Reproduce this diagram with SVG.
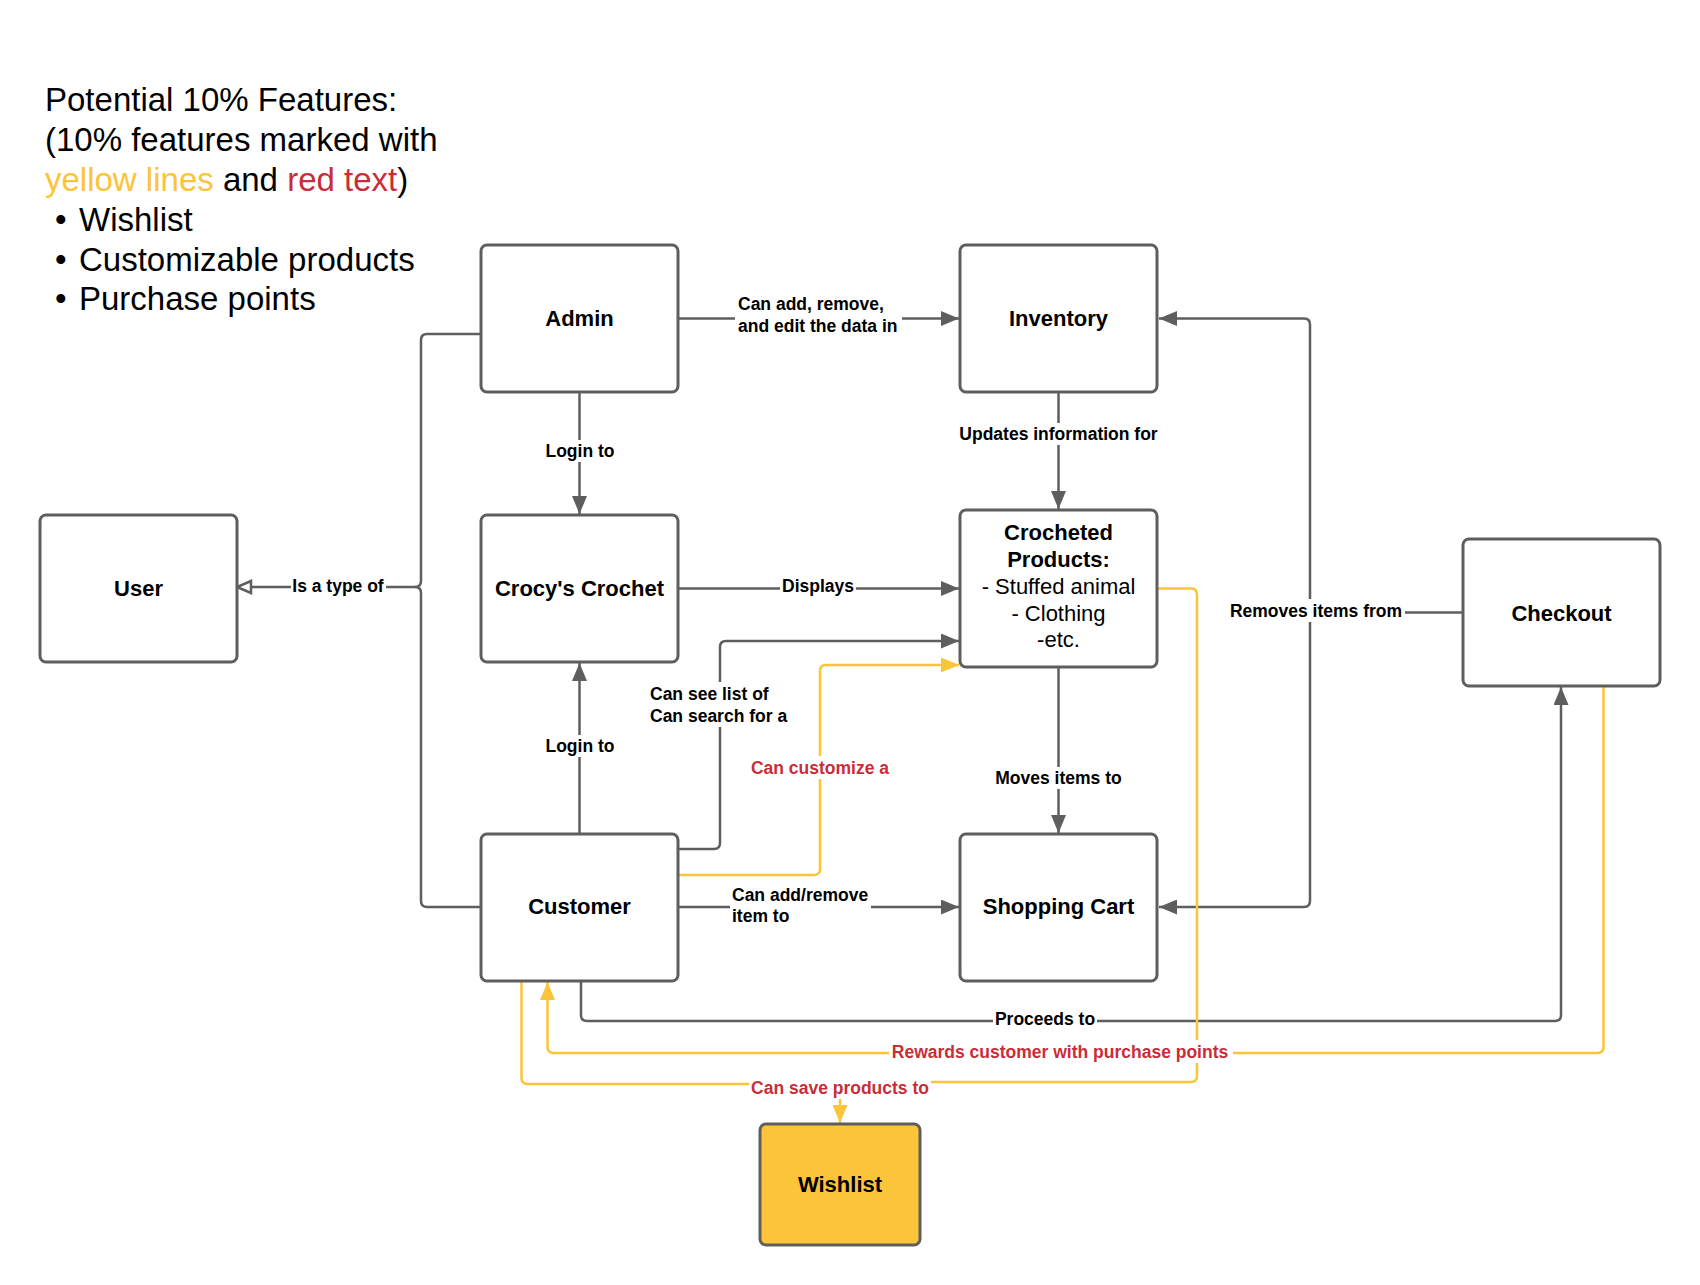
<svg xmlns="http://www.w3.org/2000/svg" width="1700" height="1285" viewBox="0 0 1700 1285">
<style>
.box{fill:#ffffff;stroke:#5e5e5e;stroke-width:3}
.wish{fill:#fcc438;stroke:#5e5e5e;stroke-width:3}
.nt{font-family:"Liberation Sans",Arial,sans-serif;font-size:22px;font-weight:bold;fill:#000;text-anchor:middle}
.nb{font-family:"Liberation Sans",Arial,sans-serif;font-size:22px;fill:#000;text-anchor:middle}
.ln{fill:none;stroke:#5e5e5e;stroke-width:2.5}
.ly{fill:none;stroke:#fcc438;stroke-width:2.5}
.lt{font-family:"Liberation Sans",Arial,sans-serif;font-size:17.5px;font-weight:bold;fill:#000}
.red{fill:#c92d39}
.mid{text-anchor:middle}
.bg{fill:#ffffff}
.title{font-family:"Liberation Sans",Arial,sans-serif;font-size:33px;fill:#000}
</style>
<defs>
<marker id="ag" markerUnits="userSpaceOnUse" markerWidth="19" markerHeight="15" refX="18" refY="7.5" orient="auto"><path d="M0,0 L18,7.5 L0,15 z" fill="#5e5e5e"/></marker>
<marker id="ay" markerUnits="userSpaceOnUse" markerWidth="19" markerHeight="15" refX="18" refY="7.5" orient="auto"><path d="M0,0 L18,7.5 L0,15 z" fill="#fcc438"/></marker>
<marker id="ah" markerUnits="userSpaceOnUse" markerWidth="18" markerHeight="16" refX="16" refY="8" orient="auto"><path d="M2,2 L16,8 L2,14 z" fill="#ffffff" stroke="#5e5e5e" stroke-width="2.5"/></marker>
</defs>
<rect width="1700" height="1285" fill="#ffffff"/>

<g id="title">
<text class="title" x="45" y="111">Potential 10% Features:</text>
<text class="title" x="45" y="151">(10% features marked with</text>
<text class="title" x="45" y="191"><tspan fill="#fcc438">yellow lines</tspan> and <tspan fill="#c92d39">red text</tspan>)</text>
<text class="title" x="55" y="231">•</text><text class="title" x="79" y="231">Wishlist</text>
<text class="title" x="55" y="271">•</text><text class="title" x="79" y="271">Customizable products</text>
<text class="title" x="55" y="310">•</text><text class="title" x="79" y="310">Purchase points</text>
</g>

<g id="connectors">
<path class="ln" d="M679,318.5 H959" marker-end="url(#ag)"/>
<path class="ln" d="M579.5,392 V514" marker-end="url(#ag)"/>
<path class="ln" d="M1058.5,392 V509" marker-end="url(#ag)"/>
<path class="ln" d="M679,588.5 H959" marker-end="url(#ag)"/>
<path class="ln" d="M579.5,834 V663" marker-end="url(#ag)"/>
<path class="ln" d="M679,849 H714 Q720,849 720,843 V647 Q720,641 726,641 H959" marker-end="url(#ag)"/>
<path class="ly" d="M679,875 H814 Q820,875 820,869 V671 Q820,665 826,665 H959" marker-end="url(#ay)"/>
<path class="ln" d="M679,907 H959" marker-end="url(#ag)"/>
<path class="ln" d="M1058.5,668 V833" marker-end="url(#ag)"/>
<path class="ln" d="M1463,612.5 H1310"/>
<path class="ln" d="M1310,612.5 V324.5 Q1310,318.5 1304,318.5 H1159" marker-end="url(#ag)"/>
<path class="ln" d="M1310,612.5 V901 Q1310,907 1304,907 H1159" marker-end="url(#ag)"/>
<path class="ln" d="M481,334 H427 Q421,334 421,340 V581 Q421,587 415,587"/>
<path class="ln" d="M481,907 H427 Q421,907 421,901 V593 Q421,587 415,587"/>
<path class="ln" d="M415,587 H237" marker-end="url(#ah)"/>
<path class="ln" d="M581,981 V1015 Q581,1021 587,1021 H1555 Q1561,1021 1561,1015 V687" marker-end="url(#ag)"/>
<path class="ly" d="M1603.5,686 V1047 Q1603.5,1053 1597.5,1053 H553.5 Q547.5,1053 547.5,1047 V982" marker-end="url(#ay)"/>
<path class="ly" d="M521.5,981 V1078 Q521.5,1084 527.5,1084 H840"/>
<path class="ly" d="M1157,588.5 H1191 Q1197,588.5 1197,594.5 V1076 Q1197,1082 1191,1082 H840"/>
<path class="ly" d="M840,1098 V1123" marker-end="url(#ay)"/>

<rect class="bg" x="735" y="292" width="167" height="46"/>
<text class="lt" x="738" y="310">Can add, remove,</text>
<text class="lt" x="738" y="332">and edit the data in</text>
<rect class="bg" x="543" y="440" width="74" height="22"/>
<text class="lt mid" x="580" y="457">Login to</text>
<rect class="bg" x="957" y="423" width="203" height="22"/>
<text class="lt mid" x="1058.5" y="440">Updates information for</text>
<rect class="bg" x="780" y="575" width="76" height="22"/>
<text class="lt mid" x="818" y="592">Displays</text>
<rect class="bg" x="291" y="576" width="95" height="22"/>
<text class="lt mid" x="338" y="592">Is a type of</text>
<rect class="bg" x="543" y="735" width="74" height="22"/>
<text class="lt mid" x="580" y="752">Login to</text>
<rect class="bg" x="647" y="682" width="143" height="45"/>
<text class="lt" x="650" y="700">Can see list of</text>
<text class="lt" x="650" y="721.5">Can search for a</text>
<rect class="bg" x="749" y="756" width="142" height="23"/>
<text class="lt mid red" x="820" y="773.5">Can customize a</text>
<rect class="bg" x="730" y="883" width="141" height="45"/>
<text class="lt" x="732" y="900.5">Can add/remove</text>
<text class="lt" x="732" y="922">item to</text>
<rect class="bg" x="993" y="767" width="131" height="22"/>
<text class="lt mid" x="1058.5" y="784">Moves items to</text>
<rect class="bg" x="1227" y="599" width="178" height="23"/>
<text class="lt mid" x="1316" y="616.5">Removes items from</text>
<rect class="bg" x="993" y="1008" width="104" height="22"/>
<text class="lt mid" x="1045" y="1025">Proceeds to</text>
<rect class="bg" x="889" y="1040" width="344" height="23"/>
<text class="lt mid red" x="1060" y="1057.5">Rewards customer with purchase points</text>
<rect class="bg" x="749" y="1076" width="182" height="23"/>
<text class="lt mid red" x="840" y="1093.5">Can save products to</text>
</g>

<g id="node-admin">
<rect class="box" x="481" y="245" width="197" height="147" rx="6"/>
<text class="nt" x="579.5" y="326">Admin</text>
</g>
<g id="node-inventory">
<rect class="box" x="960" y="245" width="197" height="147" rx="6"/>
<text class="nt" x="1058.5" y="326">Inventory</text>
</g>
<g id="node-user">
<rect class="box" x="40" y="515" width="197" height="147" rx="6"/>
<text class="nt" x="138.5" y="596">User</text>
</g>
<g id="node-crocys-crochet">
<rect class="box" x="481" y="515" width="197" height="147" rx="6"/>
<text class="nt" x="579.5" y="596">Crocy's Crochet</text>
</g>
<g id="node-crocheted-products">
<rect class="box" x="960" y="510" width="197" height="157" rx="6"/>
<text class="nt" x="1058.5" y="540">Crocheted</text>
<text class="nt" x="1058.5" y="566.5">Products:</text>
<text class="nb" x="1058.5" y="593.5">- Stuffed animal</text>
<text class="nb" x="1058.5" y="620.5">- Clothing</text>
<text class="nb" x="1058.5" y="646.5">-etc.</text>
</g>
<g id="node-checkout">
<rect class="box" x="1463" y="539" width="197" height="147" rx="6"/>
<text class="nt" x="1561.5" y="620.5">Checkout</text>
</g>
<g id="node-customer">
<rect class="box" x="481" y="834" width="197" height="147" rx="6"/>
<text class="nt" x="579.5" y="914">Customer</text>
</g>
<g id="node-shopping-cart">
<rect class="box" x="960" y="834" width="197" height="147" rx="6"/>
<text class="nt" x="1058.5" y="914">Shopping Cart</text>
</g>
<g id="node-wishlist">
<rect class="wish" x="760" y="1124" width="160" height="121" rx="6"/>
<text class="nt" x="840" y="1192">Wishlist</text>
</g>
</svg>
